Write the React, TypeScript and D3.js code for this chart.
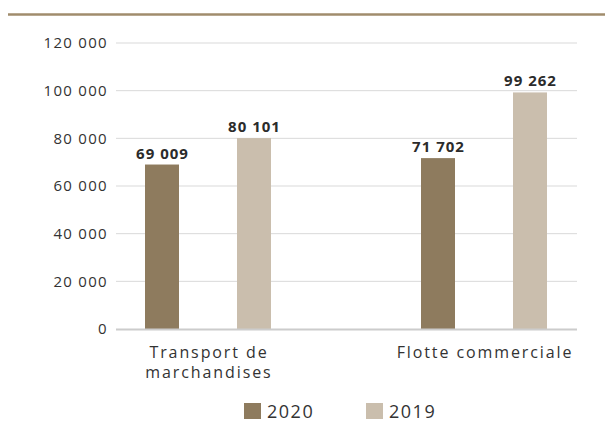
import React from "react";
import * as d3 from "d3";

const categories = ["Transport de\nmarchandises", "Flotte commerciale"];
const seriesNames = ["2020", "2019"];
const values2020 = [69009, 71702];
const values2019 = [80101, 99262];
const yTicks = [0, 20000, 40000, 60000, 80000, 100000, 120000];

const W = 605;
const H = 429;
const colors = ["#8e7b5e", "#cabead"];
const FONT = "'Open Sans', sans-serif";

const fmt = (v: number) => d3.format(",")(v).replace(/,/g, " ");

export default function App() {
  const y = d3.scaleLinear().domain([0, 120000]).range([329, 43]);
  const x = d3.scalePoint<string>().domain(categories).range([208, 484]);
  const sub = d3.scalePoint<string>().domain(seriesNames).range([-46, 46]);
  const barW = 34;
  const series = [values2020, values2019];
  return (
    <svg width={W} height={H} style={{ position: "absolute", left: 0, top: 0 }}>
      <rect x={0} y={0} width={W} height={H} fill="#fff" />
      <line x1={8} x2={W} y1={14.5} y2={14.5} stroke="#a08c6c" strokeWidth={2.5} />
      {yTicks.map((t) => (
        <g key={t}>
          {t !== 0 && (
            <line x1={116} x2={577} y1={y(t)} y2={y(t)} stroke="#d9d9d9" strokeWidth={1} />
          )}
          <text x={108} y={y(t)} dy="0.35em" textAnchor="end" fontFamily={FONT} fontSize={15} letterSpacing={1.3} fill="#333">
            {fmt(t)}
          </text>
        </g>
      ))}
      {series.map((vals, si) =>
        vals.map((v, ci) => {
          const cx = (x(categories[ci]) as number) + (sub(seriesNames[si]) as number);
          return (
            <g key={`${si}-${ci}`}>
              <rect x={cx - barW / 2} y={y(v)} width={barW} height={y(0) - y(v)} fill={colors[si]} />
              <text x={cx + 0.5} y={y(v) - 6} textAnchor="middle" fontFamily={FONT} fontSize={15} fontWeight="bold" letterSpacing={1} fill="#2b2b2b">
                {fmt(v)}
              </text>
            </g>
          );
        })
      )}
      <line x1={116} x2={577} y1={329.5} y2={329.5} stroke="#cccccc" strokeWidth={2} />
      {categories.map((c) =>
        c.split("\n").map((line, i) => (
          <text
            key={c + i}
            x={(x(c) as number) + 1}
            y={357.5 + i * 20.5}
            textAnchor="middle"
            fontFamily={FONT}
            fontSize={16}
            letterSpacing={1.9}
            fill="#333"
          >
            {line}
          </text>
        ))
      )}
      {seriesNames.map((s, i) => (
        <g key={s} transform={`translate(${244 + i * 122},403)`}>
          <rect x={0} y={0} width={17} height={16} fill={colors[i]} />
          <text x={23} y={8.5} dy="0.35em" fontFamily={FONT} fontSize={18} letterSpacing={1.5} fill="#333">
            {s}
          </text>
        </g>
      ))}
    </svg>
  );
}
